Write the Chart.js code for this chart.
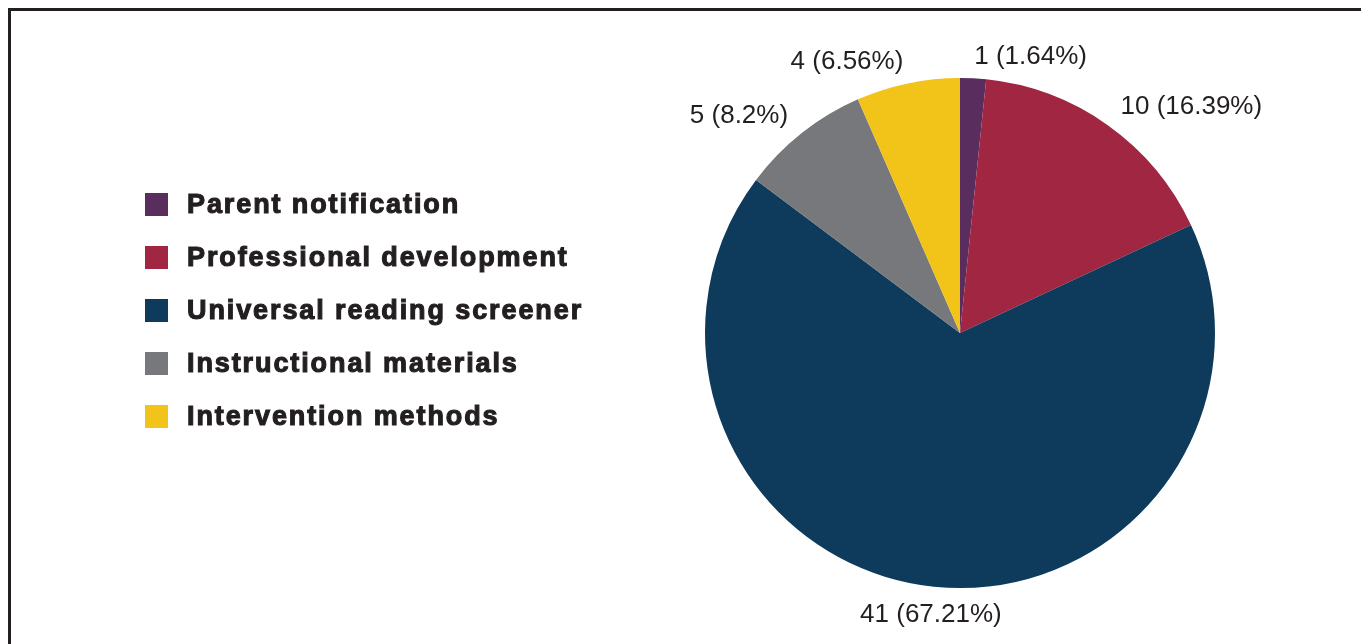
<!DOCTYPE html>
<html>
<head>
  <title>Use by type</title>
  <script src="https://cdn.jsdelivr.net/npm/chart.js"></script>
  <style>
    body {
      margin: 0;
      width: 1361px;
      height: 644px;
      overflow: hidden;
      background: #fff;
      font-family: "Liberation Sans", Arial, sans-serif;
    }
    #frame {
      position: absolute;
      left: 8px;
      top: 8px;
      width: 1400px;
      height: 700px;
      border: 3px solid #231f20;
    }
    #chartWrap {
      position: absolute;
      left: 0;
      top: 0;
      width: 1361px;
      height: 644px;
    }
    #legend {
      position: absolute;
      left: 145px;
      top: 189px;
    }
    #legend .item {
      height: 53px;
      display: flex;
      align-items: flex-start;
      font-weight: bold;
      font-size: 27px;
      letter-spacing: 1.9px;
      -webkit-text-stroke: 1.1px #231f20;
      color: #231f20;
    }
    #legend .box {
      width: 23px;
      height: 23px;
      margin-right: 19px;
      margin-top: 4px;
    }
  </style>
</head>
<body>
  <div id="frame"></div>
  <div id="chartWrap"><canvas id="pie"></canvas></div>
  <div id="legend"></div>

  <script>
    const categories = ['Parent notification', 'Professional development', 'Universal reading screener', 'Instructional materials', 'Intervention methods'];
    const counts = [1, 10, 41, 5, 4];
    const percents = ['1.64', '16.39', '67.21', '8.2', '6.56'];
    const colors = ['#5a2d5f', '#a02641', '#0e3a5c', '#77787b', '#f2c318'];

    // legend built from the same arrays
    const legend = document.getElementById('legend');
    categories.forEach((c, i) => {
      const row = document.createElement('div');
      row.className = 'item';
      const box = document.createElement('span');
      box.className = 'box';
      box.style.background = colors[i];
      row.appendChild(box);
      row.appendChild(document.createTextNode(c));
      legend.appendChild(row);
    });

    // outside labels: "count (pct%)"
    const outsideLabels = {
      id: 'outsideLabels',
      afterDatasetsDraw(chart) {
        const ctx = chart.ctx;
        const meta = chart.getDatasetMeta(0);
        ctx.save();
        ctx.font = '26px "Liberation Sans", Arial, sans-serif';
        ctx.fillStyle = '#231f20';
        ctx.textBaseline = 'middle';
        meta.data.forEach((arc, i) => {
          const mid = (arc.startAngle + arc.endAngle) / 2;
          const dx = Math.cos(mid), dy = Math.sin(mid);
          const r = arc.outerRadius + (dy > 0 ? 28 : 22);
          const x = arc.x + dx * r;
          const y = arc.y + dy * r;
          if (dy > 0 && Math.abs(dx) < 0.3) ctx.textAlign = 'center';
          else ctx.textAlign = dx >= 0 ? 'left' : 'right';
          ctx.fillText(counts[i] + ' (' + percents[i] + '%)', x, y);
        });
        ctx.restore();
      }
    };

    new Chart(document.getElementById('pie'), {
      type: 'pie',
      data: {
        labels: categories,
        datasets: [{
          data: counts,
          backgroundColor: colors,
          borderWidth: 0
        }]
      },
      options: {
        responsive: true,
        maintainAspectRatio: false,
        animation: false,
        layout: {
          padding: { left: 705, right: 146, top: 78, bottom: 56 }
        },
        plugins: {
          legend: { display: false },
          tooltip: { enabled: false }
        }
      },
      plugins: [outsideLabels]
    });
  </script>
</body>
</html>
